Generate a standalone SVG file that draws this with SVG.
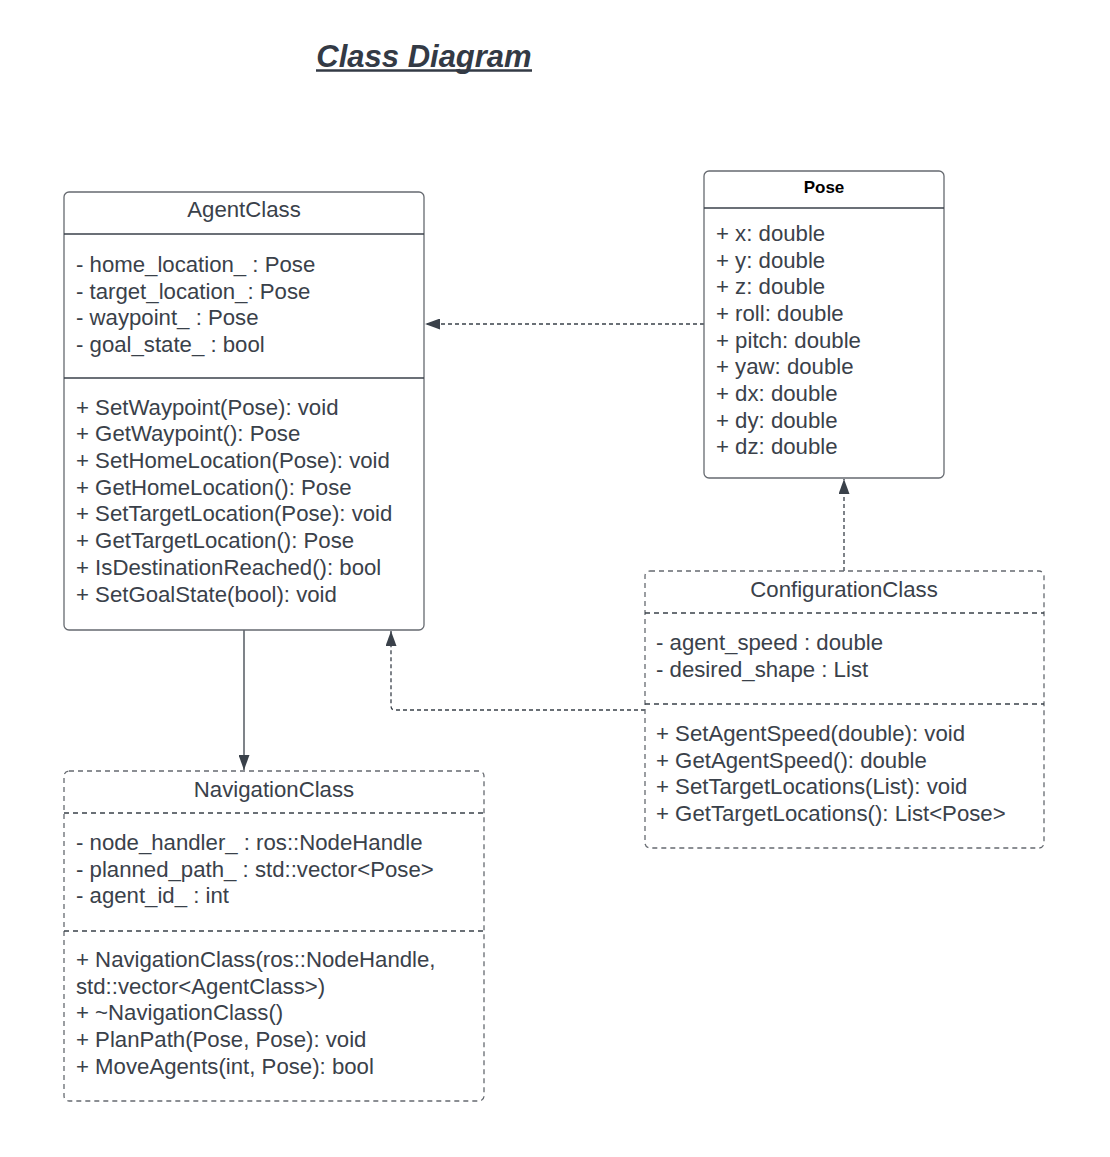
<svg xmlns="http://www.w3.org/2000/svg" width="1110" height="1157" viewBox="0 0 1110 1157">
  <style>
    .txt { font-family: "Liberation Sans", Arial, sans-serif; font-size: 22.2px; fill: #3a414a; }
    .hdr { text-anchor: middle; }
    .title { font-family: "Liberation Sans", Arial, sans-serif; font-size: 31px; font-weight: bold; font-style: italic; fill: #333a45; text-anchor: middle; }
    .bold { font-weight: bold; font-size: 17px; fill: #000; }
    .box { fill: #fff; stroke: #666a70; stroke-width: 1.3; }
    .dbox { fill: #fff; stroke: #666a70; stroke-width: 1.3; stroke-dasharray: 5 4; }
    .div { stroke: #3a414a; stroke-width: 1.3; }
    .ddiv { stroke: #3a414a; stroke-width: 1.3; stroke-dasharray: 5 4; }
    .conn { fill: none; stroke: #3a414a; stroke-width: 1.3; }
    .dash { stroke-dasharray: 4 3; }
  </style>
  <defs>
    <!-- filled triangular arrowhead, 15 long by 11 wide -->
    <marker id="arrow" viewBox="0 0 15 11" refX="15" refY="5.5" markerWidth="15" markerHeight="11" markerUnits="userSpaceOnUse" orient="auto">
      <path d="M0,0 L15,5.5 L0,11 Z" fill="#3a414a"/>
    </marker>
  </defs>
  <rect width="1110" height="1157" fill="#fff"/>

  <!-- heading -->
  <g id="heading">
    <text class="title" x="424" y="67">Class Diagram</text>
    <line x1="316" y1="70.5" x2="532" y2="70.5" stroke="#333a45" stroke-width="2.5"/>
  </g>

  <!-- connectors -->
  <g id="connectors">
    <path class="conn dash" d="M704,324 H425" marker-end="url(#arrow)"/>
    <path class="conn dash" d="M844,571 V479" marker-end="url(#arrow)"/>
    <path class="conn dash" d="M645,710 H395 Q391,710 391,706 V631" marker-end="url(#arrow)"/>
    <path class="conn" d="M244,630 V770" marker-end="url(#arrow)"/>
  </g>

  <!-- AgentClass -->
  <g id="agent-class">
    <rect class="box" x="64" y="192" width="360" height="438" rx="5"/>
    <line class="div" x1="64" y1="234" x2="424" y2="234"/>
    <line class="div" x1="64" y1="378" x2="424" y2="378"/>
    <text class="txt hdr" x="244" y="217">AgentClass</text>
    <text class="txt" x="76" y="272">- home_location_ : Pose</text>
    <text class="txt" x="76" y="299">- target_location_: Pose</text>
    <text class="txt" x="76" y="325">- waypoint_ : Pose</text>
    <text class="txt" x="76" y="352">- goal_state_ : bool</text>
    <text class="txt" x="76" y="415">+ SetWaypoint(Pose): void</text>
    <text class="txt" x="76" y="441">+ GetWaypoint(): Pose</text>
    <text class="txt" x="76" y="468">+ SetHomeLocation(Pose): void</text>
    <text class="txt" x="76" y="495">+ GetHomeLocation(): Pose</text>
    <text class="txt" x="76" y="521">+ SetTargetLocation(Pose): void</text>
    <text class="txt" x="76" y="548">+ GetTargetLocation(): Pose</text>
    <text class="txt" x="76" y="575">+ IsDestinationReached(): bool</text>
    <text class="txt" x="76" y="602">+ SetGoalState(bool): void</text>
  </g>

  <!-- Pose -->
  <g id="pose">
    <rect class="box" x="704" y="171" width="240" height="307" rx="5"/>
    <line class="div" x1="704" y1="208" x2="944" y2="208"/>
    <text class="txt hdr bold" x="824" y="193">Pose</text>
    <text class="txt" x="716" y="241">+ x: double</text>
    <text class="txt" x="716" y="268">+ y: double</text>
    <text class="txt" x="716" y="294">+ z: double</text>
    <text class="txt" x="716" y="321">+ roll: double</text>
    <text class="txt" x="716" y="348">+ pitch: double</text>
    <text class="txt" x="716" y="374">+ yaw: double</text>
    <text class="txt" x="716" y="401">+ dx: double</text>
    <text class="txt" x="716" y="428">+ dy: double</text>
    <text class="txt" x="716" y="454">+ dz: double</text>
  </g>

  <!-- ConfigurationClass -->
  <g id="configuration-class">
    <rect class="dbox" x="645" y="571" width="399" height="277" rx="5"/>
    <line class="ddiv" x1="645" y1="613" x2="1044" y2="613"/>
    <line class="ddiv" x1="645" y1="704" x2="1044" y2="704"/>
    <text class="txt hdr" x="844" y="597">ConfigurationClass</text>
    <text class="txt" x="656" y="650">- agent_speed : double</text>
    <text class="txt" x="656" y="677">- desired_shape : List</text>
    <text class="txt" x="656" y="741">+ SetAgentSpeed(double): void</text>
    <text class="txt" x="656" y="768">+ GetAgentSpeed(): double</text>
    <text class="txt" x="656" y="794">+ SetTargetLocations(List): void</text>
    <text class="txt" x="656" y="821">+ GetTargetLocations(): List&lt;Pose&gt;</text>
  </g>

  <!-- NavigationClass -->
  <g id="navigation-class">
    <rect class="dbox" x="64" y="771" width="420" height="330" rx="5"/>
    <line class="ddiv" x1="64" y1="813" x2="484" y2="813"/>
    <line class="ddiv" x1="64" y1="931" x2="484" y2="931"/>
    <text class="txt hdr" x="274" y="797">NavigationClass</text>
    <text class="txt" x="76" y="850">- node_handler_ : ros::NodeHandle</text>
    <text class="txt" x="76" y="877">- planned_path_ : std::vector&lt;Pose&gt;</text>
    <text class="txt" x="76" y="903">- agent_id_ : int</text>
    <text class="txt" x="76" y="967">+ NavigationClass(ros::NodeHandle,</text>
    <text class="txt" x="76" y="994">std::vector&lt;AgentClass&gt;)</text>
    <text class="txt" x="76" y="1020">+ ~NavigationClass()</text>
    <text class="txt" x="76" y="1047">+ PlanPath(Pose, Pose): void</text>
    <text class="txt" x="76" y="1074">+ MoveAgents(int, Pose): bool</text>
  </g>
</svg>
